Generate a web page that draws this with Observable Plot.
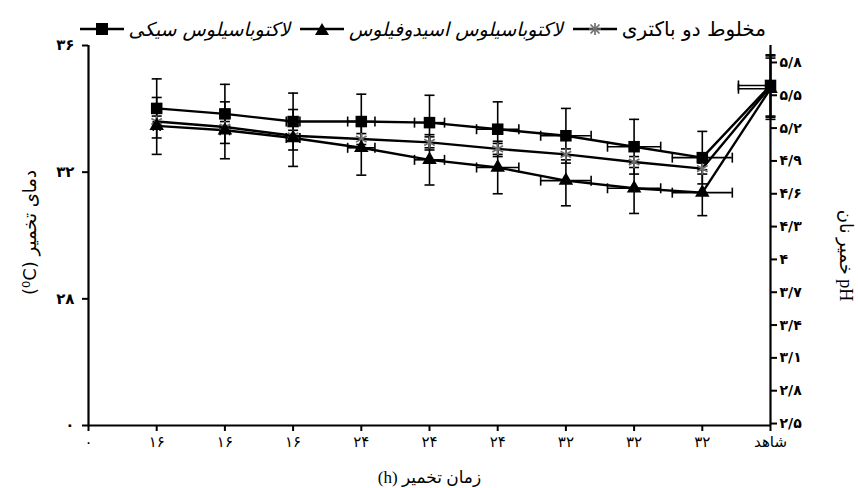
<!DOCTYPE html>
<html><head><meta charset="utf-8">
<script src="https://cdn.jsdelivr.net/npm/d3@7"></script>
<script src="https://cdn.jsdelivr.net/npm/@observablehq/plot@0.6"></script>
<style>
body{margin:0;background:#fff;}
#wrap{position:relative;width:858px;height:488px;overflow:hidden;}
#legend{position:absolute;top:17px;right:92px;display:flex;align-items:center;font-family:"DejaVu Sans";font-size:19px;color:#000;direction:rtl;white-space:nowrap;}
.item{display:flex;align-items:center;margin-left:10px;}
.item span{margin-left:5px;}
.item svg{display:block;}
</style></head><body><div id="wrap"><div id="legend"></div></div>
<script>
// ---- data ----
const xLabels = ["۰","۱۶","۱۶","۱۶","۲۴","۲۴","۲۴","۳۲","۳۲","۳۲","شاهد"];
const tempTicks = [24, 28, 32, 36];
const tempLabels = ["۰","۲۸","۳۲","۳۶"];
const phTicks = [2.5, 2.8, 3.1, 3.4, 3.7, 4, 4.3, 4.6, 4.9, 5.2, 5.5, 5.8];
const phLabels = ["۲/۵","۲/۸","۳/۱","۳/۴","۳/۷","۴","۴/۳","۴/۶","۴/۹","۵/۲","۵/۵","۵/۸"];
const seriesNames = ["لاکتوباسیلوس سیکی","لاکتوباسیلوس اسیدوفیلوس","مخلوط دو باکتری"];
const sakeiPH = [5.38, 5.33, 5.26, 5.26, 5.25, 5.19, 5.13, 5.03, 4.93, 5.59];
const acidoPH = [5.22, 5.18, 5.11, 5.02, 4.91, 4.84, 4.72, 4.65, 4.61, 5.56];
const mixPH   = [5.26, 5.21, 5.13, 5.10, 5.07, 5.01, 4.96, 4.89, 4.83, 5.58];
const sakeiErr = [0.27, 0.27, 0.26, 0.25, 0.25, 0.25, 0.25, 0.25, 0.24, 0.28];
const acidoErr = [0.26, 0.26, 0.26, 0.25, 0.23, 0.24, 0.23, 0.23, 0.21, 0.28];
const mixErr   = [0.05, 0.05, 0.05, 0.05, 0.05, 0.05, 0.05, 0.05, 0.05, 0.28];
const timeErr  = [0.05, 0.07, 0.10, 0.20, 0.22, 0.31, 0.37, 0.39, 0.44, 0.47];

// ---- scales ----
const yLo = 2.482, yHi = 5.955;
const tempToPh = t => yLo + (t - 24) / 12 * (yHi - yLo);
const nearestIdx = (arr, v, f) => d3.minIndex(arr, a => Math.abs(f(a) - v));

const series = [
  {name: seriesNames[0], values: sakeiPH, err: sakeiErr, h: true, symbol: "square"},
  {name: seriesNames[1], values: acidoPH, err: acidoErr, h: true, symbol: "triangle"},
  {name: seriesNames[2], values: mixPH, err: mixErr, h: false, symbol: "asterisk"}
];
const rows = series.flatMap(s => s.values.map((v, i) => ({series: s.name, sym: s.symbol, x: i + 1, y: v, ev: s.err[i], eh: s.h ? timeErr[i] : 0})));
const capsV = rows.flatMap(d => [{x: d.x, y: d.y - d.ev}, {x: d.x, y: d.y + d.ev}]);
const hRows = rows.filter(d => d.eh > 0);
const capsH = hRows.flatMap(d => [{x: d.x - d.eh, y: d.y}, {x: d.x + d.eh, y: d.y}]);

const hcap = {draw(ctx, size) { const r = Math.sqrt(size / Math.PI); ctx.moveTo(-r, 0); ctx.lineTo(r, 0); }};
const vcap = {draw(ctx, size) { const r = Math.sqrt(size / Math.PI); ctx.moveTo(0, -r); ctx.lineTo(0, r); }};

const chart = Plot.plot({
  width: 858, height: 488,
  marginLeft: 88, marginRight: 88, marginTop: 45, marginBottom: 63,
  style: {fontFamily: "'Liberation Serif','DejaVu Sans'", fontSize: "14px", color: "#000", background: "#fff"},
  x: {domain: [0, 10]},
  y: {domain: [yLo, yHi]},
  marks: [
    Plot.axisX({ticks: d3.range(xLabels.length), tickFormat: d => xLabels[d], tickSize: 6, tickPadding: 5, fontSize: 15, fontFamily: "DejaVu Sans", strokeWidth: 2, label: null}),
    Plot.axisY({anchor: "left", ticks: tempTicks.map(tempToPh), tickFormat: d => tempLabels[nearestIdx(tempTicks, d, tempToPh)], tickSize: 6, tickPadding: 8, fontSize: 15, fontFamily: "DejaVu Sans", fontWeight: "bold", strokeWidth: 2, label: null}),
    Plot.axisY({anchor: "right", ticks: phTicks, tickFormat: d => phLabels[nearestIdx(phTicks, d, a => a)], tickSize: 6, tickPadding: 3, fontSize: 14, fontFamily: "DejaVu Sans", fontWeight: "bold", strokeWidth: 2, label: null}),
    Plot.ruleX([0, 10], {y1: yLo, y2: yHi, stroke: "#000", strokeWidth: 2.2}),
    Plot.ruleY([yLo], {x1: 0, x2: 10, stroke: "#000", strokeWidth: 2.2}),
    Plot.ruleX(rows, {x: "x", y1: d => d.y - d.ev, y2: d => d.y + d.ev, stroke: "#000", strokeWidth: 1.6}),
    Plot.dot(capsV, {x: "x", y: "y", symbol: hcap, r: 5, fill: "none", stroke: "#000", strokeWidth: 1.6}),
    Plot.ruleY(hRows, {y: "y", x1: d => d.x - d.eh, x2: d => d.x + d.eh, stroke: "#000", strokeWidth: 1.6, clip: true}),
    Plot.dot(capsH, {x: "x", y: "y", symbol: vcap, r: 5, fill: "none", stroke: "#000", strokeWidth: 1.6, clip: true}),
    Plot.line(rows, {x: "x", y: "y", z: "series", stroke: "#000", strokeWidth: 2.4}),
    Plot.dot(rows.filter(d => d.sym === "asterisk"), {x: "x", y: "y", symbol: "asterisk", r: 5.8, stroke: "#6f6f6f", strokeWidth: 1.7}),
    Plot.dot(rows.filter(d => d.sym === "triangle"), {x: "x", y: "y", symbol: "triangle", r: 5.4, fill: "#000", stroke: "none"}),
    Plot.dot(rows.filter(d => d.sym === "square"), {x: "x", y: "y", symbol: "square", r: 6.5, fill: "#000", stroke: "none"}),
    Plot.text(["دمای تخمیر (⁰C)"], {frameAnchor: "left", textAnchor: "middle", dx: -58, dy: -3, rotate: -90, fontSize: 18, fontFamily: "DejaVu Sans"}),
    Plot.text(["pH خمیر نان"], {frameAnchor: "right", textAnchor: "middle", dx: 75, dy: 20, rotate: 90, fontSize: 18, fontFamily: "'Liberation Serif','DejaVu Sans'"}),
    Plot.text(["زمان تخمیر (h)"], {frameAnchor: "bottom", textAnchor: "middle", dy: 57, fontSize: 17, fontFamily: "'Liberation Serif','DejaVu Sans'"})
  ]
});
chart.querySelectorAll("text").forEach(t => {
  if (/[\u0600-\u06FF]/.test(t.textContent) && t.textContent.includes(" ")) t.setAttribute("direction", "rtl");
});
document.getElementById("wrap").appendChild(chart);

// ---- legend ----
const legendSyms = {
  square: '<rect x="16" y="1" width="12" height="12" fill="#000"/>',
  triangle: '<path d="M22 1 L29 13 L15 13 Z" fill="#000"/>',
  asterisk: '<path d="M16 7 H28 M22 1 V13 M17.5 2.5 L26.5 11.5 M26.5 2.5 L17.5 11.5" stroke="#6f6f6f" stroke-width="1.7"/>'
};
const legend = document.getElementById("legend");
[...series].reverse().forEach(s => {
  const it = document.createElement("div");
  it.className = "item";
  const sp = document.createElement("span");
  sp.textContent = s.name;
  if (s.symbol !== "asterisk") sp.style.fontStyle = "italic";
  else sp.style.fontSize = "20px";
  it.appendChild(sp);
  it.insertAdjacentHTML("beforeend", `<svg width="44" height="14"><line x1="0" x2="44" y1="7" y2="7" stroke="#000" stroke-width="2.4"/>${legendSyms[s.symbol]}</svg>`);
  legend.appendChild(it);
});
</script>
</body></html>
